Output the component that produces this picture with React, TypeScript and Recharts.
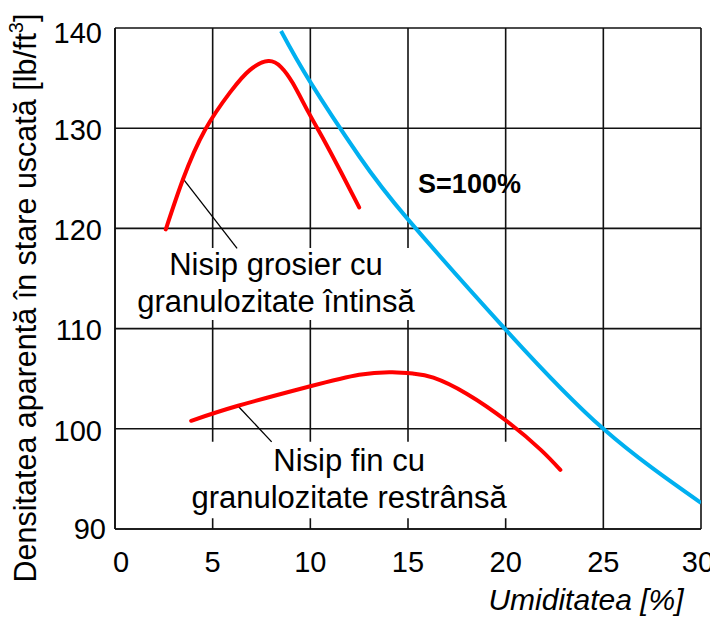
import React from 'react';
import {
  LineChart, Line, XAxis, YAxis, CartesianGrid, ReferenceArea, ReferenceLine, ReferenceDot, Customized,
} from 'recharts';

const FONT = '"Liberation Sans", Arial, Helvetica, sans-serif';

// Nisip grosier cu granulozitate întinsă
const coarseX = [2.6, 3.5, 4.6, 5.9, 6.9, 7.85, 8.5, 9.1, 9.9, 10.7, 11.6, 12.5];
const coarseY = [119.9, 125.0, 129.8, 133.6, 135.8, 136.7, 136.1, 134.5, 131.6, 128.8, 125.5, 122.1];

// Nisip fin cu granulozitate restrânsă
const fineX = [3.9, 6.3, 9.9, 12.5, 14.2, 15.3, 16.3, 18.0, 20.1, 21.8, 22.8];
const fineY = [100.8, 102.3, 104.2, 105.4, 105.65, 105.5, 105.1, 103.5, 100.7, 97.9, 95.9];

// S = 100%
const satX = [8.5, 10, 12.5, 15, 20, 25, 30];
const satY = [139.7, 134.6, 127.2, 120.9, 109.9, 100.0, 92.6];

const xTicks = [0, 5, 10, 15, 20, 25, 30];
const yTicks = [90, 100, 110, 120, 130, 140];

const coarseLabel = ['Nisip grosier cu', 'granulozitate întinsă'];
const fineLabel = ['Nisip fin cu', 'granulozitate restrânsă'];
const satLabel = 'S=100%';
const xTitle = 'Umiditatea [%]';
const yTitleMain = 'Densitatea aparentă în stare uscată [lb/ft';
const yTitleSup = '3';
const yTitleEnd = ']';

const toPts = (xs: number[], ys: number[]) => xs.map((x, i) => ({ x, y: ys[i] }));
const coarseData = toPts(coarseX, coarseY);
const fineData = toPts(fineX, fineY);
const satData = toPts(satX, satY);

const XTick = (props: any) => {
  const { x, y, payload } = props;
  let dx = 0;
  if (payload.value === 0) dx = 6;
  if (payload.value === 30) dx = -3;
  return (
    <text x={x + dx} y={y} dy="0.71em" textAnchor="middle" fontSize={29} fontFamily={FONT} fill="#000">
      {payload.value}
    </text>
  );
};

const YTick = (props: any) => {
  const { x, y, payload } = props;
  let dx = 0;
  let dy = 1.5;
  if (payload.value === 140) dy = 5;
  if (payload.value === 90) { dx = 4; dy = 0; }
  return (
    <text x={x + dx} y={y + dy} dy="0.355em" textAnchor="end" fontSize={29} fontFamily={FONT} fill="#000">
      {payload.value}
    </text>
  );
};

const BoxText = (props: any) => {
  const { viewBox, lines } = props;
  if (!viewBox) return null;
  const cx = viewBox.x + viewBox.width / 2;
  const cy = viewBox.y + viewBox.height / 2;
  return (
    <g>
      <text x={cx} y={cy - 9} textAnchor="middle" fontSize={31} fontFamily={FONT} fill="#000">{lines[0]}</text>
      <text x={cx} y={cy + 28} textAnchor="middle" fontSize={31} fontFamily={FONT} fill="#000">{lines[1]}</text>
    </g>
  );
};

const Titles = () => (
  <g>
    <text
      x={28}
      y={290}
      transform="rotate(-90 28 290)"
      textAnchor="middle"
      fontSize={30.5}
      fontFamily={FONT}
      fill="#000"
    >
      {yTitleMain}
      <tspan dy={-13} fontSize={20}>{yTitleSup}</tspan>
      <tspan dy={13}>{yTitleEnd}</tspan>
    </text>
    <text x={578} y={602} textAnchor="middle" fontSize={30} fontStyle="italic" fontFamily={FONT} fill="#000">
      {xTitle}
    </text>
  </g>
);

export default function App() {
  return (
    <div style={{ width: 710, height: 609, fontFamily: FONT }}>
      <LineChart width={710} height={609} margin={{ top: 20, right: 17, left: 47, bottom: 28 }}>
        <CartesianGrid stroke="#111" strokeWidth={1.6} />
        <XAxis
          dataKey="x"
          type="number"
          domain={[0, 30]}
          ticks={xTicks}
          interval={0}
          tickLine={false}
          tickSize={0}
          tickMargin={22}
          height={60}
          axisLine={{ stroke: '#111', strokeWidth: 1.6 }}
          tick={<XTick />}
          allowDataOverflow
        />
        <YAxis
          dataKey="y"
          type="number"
          domain={[90, 140]}
          ticks={yTicks}
          interval={0}
          tickLine={false}
          tickSize={0}
          tickMargin={13}
          width={60}
          axisLine={{ stroke: '#111', strokeWidth: 1.6 }}
          tick={<YTick />}
          allowDataOverflow
        />
        <ReferenceArea
          x1={0.97}
          x2={15.51}
          y1={110.86}
          y2={118.04}
          fill="#fff"
          fillOpacity={1}
          stroke="none"
          label={<BoxText lines={coarseLabel} />}
        />
        <ReferenceArea
          x1={3.69}
          x2={20.28}
          y1={91.07}
          y2={98.71}
          fill="#fff"
          fillOpacity={1}
          stroke="none"
          label={<BoxText lines={fineLabel} />}
        />
        <ReferenceLine segment={[{ x: 3.47, y: 125.0 }, { x: 6.25, y: 118.0 }]} stroke="#000" strokeWidth={1.3} />
        <ReferenceLine segment={[{ x: 6.26, y: 102.35 }, { x: 8.02, y: 98.7 }]} stroke="#000" strokeWidth={1.3} />
        <Line data={satData} dataKey="y" type="natural" stroke="#00b0f0" strokeWidth={4} dot={false} isAnimationActive={false} />
        <Line data={coarseData} dataKey="y" type="natural" stroke="#ff0000" strokeWidth={4} strokeLinecap="round" dot={false} isAnimationActive={false} />
        <Line data={fineData} dataKey="y" type="natural" stroke="#ff0000" strokeWidth={4} strokeLinecap="round" dot={false} isAnimationActive={false} />
        <ReferenceDot
          x={18.15}
          y={124.53}
          r={0}
          fill="none"
          stroke="none"
          label={{ value: satLabel, position: 'center', fontSize: 27, fontWeight: 'bold', fill: '#000', fontFamily: FONT }}
        />
        <Customized component={<Titles />} />
      </LineChart>
    </div>
  );
}
